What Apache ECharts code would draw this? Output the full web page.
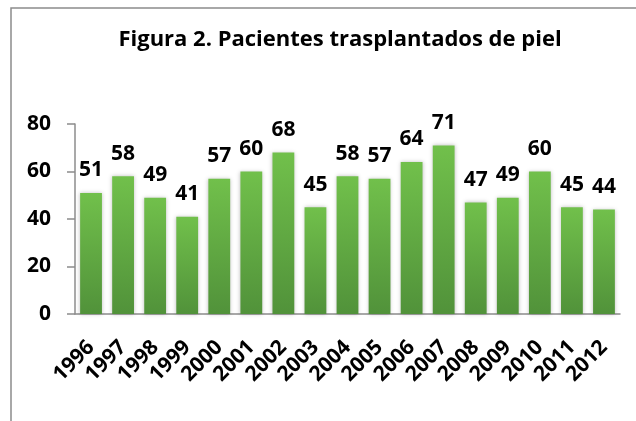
<!DOCTYPE html>
<html>
<head>
<meta charset="utf-8">
<script src="https://cdn.jsdelivr.net/npm/echarts@6/dist/echarts.min.js"></script>
<style>
  html, body { margin: 0; padding: 0; background: #fff; }
  #chart { width: 636px; height: 421px; }
</style>
</head>
<body>
<div id="chart"></div>
<script>
var years = ['1996', '1997', '1998', '1999', '2000', '2001', '2002', '2003', '2004',
             '2005', '2006', '2007', '2008', '2009', '2010', '2011', '2012'];
var pacientes = [51, 58, 49, 41, 57, 60, 68, 45, 58, 57, 64, 71, 47, 49, 60, 45, 44];
var yTicks = [0, 20, 40, 60, 80];

var fontName = 'Open Sans';
var myChart = echarts.init(document.getElementById('chart'));

myChart.setOption({
    backgroundColor: '#fff',
    animation: false,
    title: {
        text: 'Figura 2. Pacientes trasplantados de piel',
        left: 335,
        textAlign: 'center',
        top: 24,
        textStyle: {
            fontFamily: fontName,
            fontWeight: 'bold',
            fontSize: 22,
            color: '#000'
        }
    },
    graphic: [{
        type: 'rect',
        shape: { x: 11, y: 8, width: 700, height: 500 },
        style: { fill: 'none', stroke: '#8c8c8c', lineWidth: 1.5 },
        silent: true
    }],
    grid: {
        left: 75,
        right: 16,
        top: 124,
        bottom: 107
    },
    xAxis: {
        type: 'category',
        data: years,
        axisLine: { lineStyle: { color: '#8c8c8c', width: 1.5 } },
        axisTick: { length: 8, lineStyle: { color: '#8c8c8c', width: 1.5 } },
        axisLabel: {
            rotate: 45,
            margin: 30,
            interval: 0,
            color: '#000',
            fontFamily: fontName,
            fontWeight: 'bold',
            fontSize: 21
        }
    },
    yAxis: {
        type: 'value',
        min: yTicks[0],
        max: yTicks[yTicks.length - 1],
        interval: 20,
        splitLine: { show: false },
        axisLine: { show: true, lineStyle: { color: '#8c8c8c', width: 1.5 } },
        axisTick: { show: true, length: 8, lineStyle: { color: '#8c8c8c', width: 1.5 } },
        axisLabel: {
            margin: 24,
            color: '#000',
            fontFamily: fontName,
            fontWeight: 'bold',
            fontSize: 21
        }
    },
    series: [{
        type: 'bar',
        data: pacientes,
        barCategoryGap: '32%',
        itemStyle: {
            color: new echarts.graphic.LinearGradient(0, 0, 0, 1, [
                { offset: 0, color: '#71c04b' },
                { offset: 1, color: '#51923a' }
            ]),
            shadowBlur: 4,
            shadowColor: 'rgba(0,0,0,0.25)'
        },
        label: {
            show: true,
            position: 'top',
            distance: 12,
            color: '#000',
            fontFamily: fontName,
            fontWeight: 'bold',
            fontSize: 21
        }
    }]
});
</script>
</body>
</html>
